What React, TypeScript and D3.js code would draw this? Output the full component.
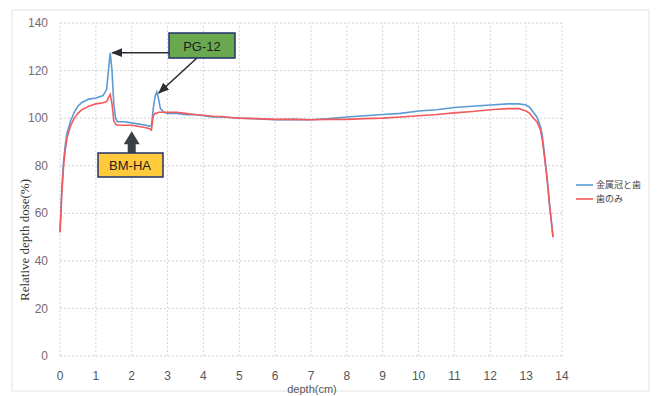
import React, { useEffect, useRef } from 'react';
import * as d3 from 'd3';

// depth (cm) and relative dose (%)
const depth = [0, 0.05, 0.1, 0.15, 0.2, 0.3, 0.4, 0.5, 0.6, 0.8, 1.0, 1.2, 1.3, 1.35, 1.4, 1.45, 1.5, 1.55, 1.6, 1.8,
  2.0, 2.2, 2.4, 2.5, 2.55, 2.6, 2.65, 2.7, 2.75, 2.8, 2.9, 3.0, 3.25, 3.5, 3.75, 4.0, 4.25, 4.5, 4.75, 5.0,
  5.5, 6.0, 6.5, 7.0, 7.5, 8.0, 8.5, 9.0, 9.5, 10.0, 10.5, 11.0, 11.5, 12.0, 12.5, 12.8, 13.0, 13.1, 13.2, 13.3,
  13.4, 13.45, 13.5, 13.55, 13.6, 13.65, 13.7, 13.75];
const crownAndTooth = [52, 70, 82, 89, 94, 99, 102.5, 105, 106.5, 108, 108.5, 109.5, 112, 120, 127.5, 120, 106, 100, 98.5, 98.5,
  98, 97.5, 97, 96.5, 97, 104, 109, 111, 108, 104, 102.5, 102, 102, 101.5, 101.5, 101, 100.5, 100.5, 100.3, 100,
  99.7, 99.3, 99.5, 99.3, 99.8, 100.5, 101, 101.5, 102, 103, 103.5, 104.5, 105, 105.5, 106, 106, 105.5, 104.5, 102.5, 100.5,
  96.5, 92.5, 86.5, 79.5, 72.5, 64, 57, 50];
const toothOnly = [52, 68, 80, 87, 92, 97, 100, 102, 103.5, 105, 106, 106.5, 107, 108.5, 110, 106, 99, 97.5, 97, 97,
  97, 96.5, 96, 95.5, 95, 101, 102, 102, 102.5, 102.5, 102.5, 102.5, 102.5, 102, 101.5, 101.2, 100.8, 100.7, 100.3, 100,
  99.8, 99.5, 99.5, 99.3, 99.5, 99.5, 99.8, 100, 100.5, 101, 101.5, 102.2, 102.8, 103.5, 104, 104, 103, 102, 100, 98.5,
  95, 91, 85, 79, 72, 64, 57, 50];

const xTicks = d3.range(0, 15);
const yTicks = [0, 20, 40, 60, 80, 100, 120, 140];
const seriesNames = ['金属冠と歯', '歯のみ'];
const seriesColors = ['#5b9bd5', '#f25a5e'];

const App = () => {
  const ref = useRef<SVGSVGElement>(null);

  useEffect(() => {
    const svg = d3.select(ref.current);
    svg.selectAll('*').remove();

    const x = d3.scaleLinear().domain([0, 14]).range([60, 562]);
    const y = d3.scaleLinear().domain([0, 140]).range([356, 23]);

    // chart frame
    svg.append('rect')
      .attr('x', 12).attr('y', 10).attr('width', 637).attr('height', 381)
      .attr('fill', 'white').attr('stroke', '#e2e2e2');

    // grid
    svg.append('g').selectAll('line').data(yTicks).enter().append('line')
      .attr('x1', x(0)).attr('x2', x(14))
      .attr('y1', d => y(d)).attr('y2', d => y(d))
      .attr('stroke', '#cfcfcf').attr('stroke-dasharray', '2,2');
    svg.append('g').selectAll('line').data(xTicks).enter().append('line')
      .attr('x1', d => x(d)).attr('x2', d => x(d))
      .attr('y1', y(0)).attr('y2', y(140))
      .attr('stroke', '#d6d6d6').attr('stroke-dasharray', '2,2');

    // tick labels
    svg.append('g').selectAll('text').data(yTicks).enter().append('text')
      .attr('x', 48).attr('y', d => y(d)).attr('dy', '0.35em')
      .attr('text-anchor', 'end')
      .attr('font-family', 'Liberation Sans, Arial, sans-serif').attr('font-size', 12)
      .attr('fill', '#7b6a70')
      .text(d => d);
    svg.append('g').selectAll('text').data(xTicks).enter().append('text')
      .attr('x', d => x(d)).attr('y', 380)
      .attr('text-anchor', 'middle')
      .attr('font-family', 'Liberation Sans, Arial, sans-serif').attr('font-size', 12)
      .attr('fill', '#555')
      .text(d => d);

    // axis titles
    svg.append('text')
      .attr('transform', 'translate(29,240) rotate(-90)')
      .attr('text-anchor', 'middle')
      .attr('font-family', 'Liberation Serif, Times New Roman, serif').attr('font-size', 13)
      .attr('fill', '#333')
      .text('Relative depth dose(%)');
    svg.append('text')
      .attr('x', 312).attr('y', 393)
      .attr('text-anchor', 'middle')
      .attr('font-family', 'Liberation Sans, Arial, sans-serif').attr('font-size', 11)
      .attr('fill', '#555')
      .text('depth(cm)');

    // lines
    const line = d3.line<number>()
      .x((d, i) => x(depth[i]))
      .y(d => y(d));
    [crownAndTooth, toothOnly].forEach((vals, k) => {
      svg.append('path')
        .datum(vals)
        .attr('fill', 'none')
        .attr('stroke', seriesColors[k])
        .attr('stroke-width', 1.6)
        .attr('d', line);
    });

    // legend
    seriesNames.forEach((name, k) => {
      const ly = 185 + k * 14;
      svg.append('line')
        .attr('x1', 576).attr('x2', 593).attr('y1', ly).attr('y2', ly)
        .attr('stroke', seriesColors[k]).attr('stroke-width', 1.6);
      svg.append('text')
        .attr('x', 596).attr('y', ly).attr('dy', '0.35em')
        .attr('font-family', 'Noto Sans CJK JP, sans-serif').attr('font-size', 9)
        .attr('fill', '#444')
        .text(name);
    });

    // annotations
    const defs = svg.append('defs');
    defs.append('marker')
      .attr('id', 'ah').attr('viewBox', '0 0 10 10').attr('refX', 9).attr('refY', 5)
      .attr('markerWidth', 7).attr('markerHeight', 7).attr('orient', 'auto')
      .append('path').attr('d', 'M0,1 L10,5 L0,9 z').attr('fill', '#2b2f33');

    const peak1 = { d: 1.4, v: 127.5 };
    const peak2 = { d: 2.7, v: 111 };
    svg.append('line')
      .attr('x1', 170).attr('y1', y(peak1.v)).attr('x2', x(peak1.d) + 2).attr('y2', y(peak1.v))
      .attr('stroke', '#2b2f33').attr('stroke-width', 1.6).attr('marker-end', 'url(#ah)');
    svg.append('line')
      .attr('x1', 198).attr('y1', 57).attr('x2', x(peak2.d) + 2).attr('y2', y(peak2.v) + 1)
      .attr('stroke', '#2b2f33').attr('stroke-width', 1.6).attr('marker-end', 'url(#ah)');

    svg.append('rect')
      .attr('x', 169).attr('y', 33).attr('width', 66).attr('height', 25)
      .attr('fill', '#6aa84f').attr('stroke', '#23306e').attr('stroke-width', 1.5);
    svg.append('text')
      .attr('x', 202).attr('y', 46).attr('dy', '0.35em').attr('text-anchor', 'middle')
      .attr('font-family', 'Liberation Sans, Arial, sans-serif').attr('font-size', 13)
      .attr('fill', '#1e1e1e')
      .text('PG-12');

    // block arrow pointing at the BM-HA dip
    const ax = x(2.0);
    const tip = y(97) + 6;
    const base = 153;
    svg.append('path')
      .attr('d', `M${ax},${tip} L${ax + 8},${tip + 13} L${ax + 4},${tip + 13} L${ax + 4},${base} L${ax - 4},${base} L${ax - 4},${tip + 13} L${ax - 8},${tip + 13} Z`)
      .attr('fill', '#3b4045');

    svg.append('rect')
      .attr('x', 98).attr('y', 153).attr('width', 65).attr('height', 24)
      .attr('fill', '#ffc93c').attr('stroke', '#23306e').attr('stroke-width', 1.5);
    svg.append('text')
      .attr('x', 130).attr('y', 165).attr('dy', '0.35em').attr('text-anchor', 'middle')
      .attr('font-family', 'Liberation Sans, Arial, sans-serif').attr('font-size', 13)
      .attr('fill', '#1e1e1e')
      .text('BM-HA');
  }, []);

  return (
    <svg ref={ref} width={657} height={396}
      style={{ position: 'absolute', left: 0, top: 0, background: 'white' }} />
  );
};

export default App;
